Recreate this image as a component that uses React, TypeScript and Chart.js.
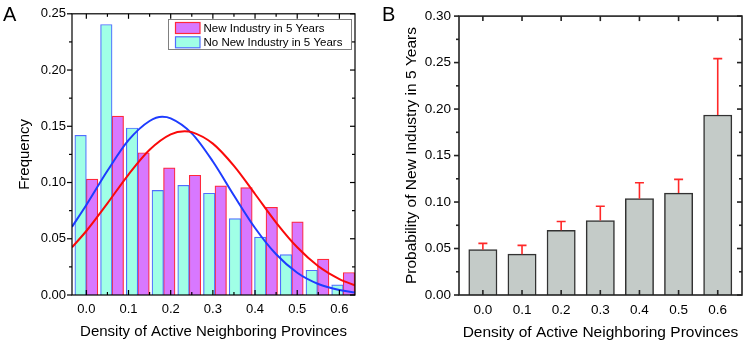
import React, { useEffect, useRef } from "react";
import { Chart, registerables } from "chart.js";

Chart.register(...registerables);

const FONT = '"Liberation Sans", Arial, Helvetica, sans-serif';

// ---------- Panel A data ----------
const binCenters = [0, 0.061, 0.122, 0.183, 0.244, 0.305, 0.366, 0.426, 0.487, 0.548, 0.609];
const freqNew = [0.103, 0.159, 0.1265, 0.113, 0.1065, 0.097, 0.0955, 0.078, 0.065, 0.032, 0.02];
const freqNoNew = [0.142, 0.2405, 0.1485, 0.093, 0.0975, 0.0905, 0.068, 0.0515, 0.036, 0.022, 0.009];
const fitNoNewX = [-0.034, 0, 0.05, 0.1, 0.15, 0.18, 0.2, 0.25, 0.3, 0.35, 0.4, 0.45, 0.5, 0.55, 0.6, 0.637];
const fitNoNewY = [0.0606, 0.08, 0.1104, 0.1376, 0.1547, 0.1584, 0.157, 0.1437, 0.1187, 0.0885, 0.0596, 0.0362, 0.0198, 0.0098, 0.0044, 0.0023];
const fitNewX = [-0.034, 0, 0.05, 0.1, 0.15, 0.2, 0.233, 0.25, 0.3, 0.35, 0.4, 0.45, 0.5, 0.55, 0.6, 0.637];
const fitNewY = [0.0424, 0.0569, 0.0815, 0.1071, 0.1291, 0.1428, 0.1455, 0.1448, 0.1346, 0.1148, 0.0898, 0.0644, 0.0424, 0.0256, 0.0142, 0.0086];
const xMajorA = [0, 0.1, 0.2, 0.3, 0.4, 0.5, 0.6];
const xMinorA = [0.05, 0.15, 0.25, 0.35, 0.45, 0.55];
const yMajorA = [0, 0.05, 0.1, 0.15, 0.2, 0.25];
const yMinorA = [0.025, 0.075, 0.125, 0.175, 0.225];
const labelNew = "New Industry in 5 Years";
const labelNoNew = "No New Industry in 5 Years";

// ---------- Panel B data ----------
const densityB = [0, 0.1, 0.2, 0.3, 0.4, 0.5, 0.6];
const probB = [0.0488, 0.0439, 0.0696, 0.0801, 0.1036, 0.1096, 0.1936];
const errB = [0.0067, 0.0095, 0.0094, 0.0154, 0.0172, 0.0148, 0.0607];
const yMajorB = [0, 0.05, 0.1, 0.15, 0.2, 0.25, 0.3];
const yMinorB = [0.025, 0.075, 0.125, 0.175, 0.225, 0.275];

const TEAL = "rgb(160,255,230)";
const TEAL_EDGE = "rgb(80,110,255)";
const MAGENTA = "rgb(216,120,255)";
const MAGENTA_EDGE = "rgb(255,40,60)";
const BLUE = "rgb(30,60,255)";
const RED = "rgb(250,10,10)";

type FrameCfg = {
  color: string;
  width: number;
  xMajor: number[];
  xMinor: number[];
  yMajor: number[];
  yMinor: number[];
};

function framePlugin(id: string, cfg: FrameCfg) {
  return {
    id,
    afterDatasetsDraw(chart: any) {
      const { ctx, chartArea, scales } = chart;
      const { left, right, top, bottom } = chartArea;
      const line = (x1: number, y1: number, x2: number, y2: number) => {
        ctx.beginPath();
        ctx.moveTo(x1, y1);
        ctx.lineTo(x2, y2);
        ctx.stroke();
      };
      ctx.save();
      ctx.strokeStyle = cfg.color;
      ctx.lineWidth = cfg.width;
      ctx.strokeRect(left, top, right - left, bottom - top);
      const maj = 5;
      const min = 3;
      cfg.xMajor.forEach((v) => {
        const p = scales.x.getPixelForValue(v);
        line(p, bottom, p, bottom - maj);
        line(p, top, p, top + maj);
      });
      cfg.xMinor.forEach((v) => {
        const p = scales.x.getPixelForValue(v);
        line(p, bottom, p, bottom - min);
        line(p, top, p, top + min);
      });
      cfg.yMajor.forEach((v) => {
        const p = scales.y.getPixelForValue(v);
        line(left, p, left - maj, p);
        line(right, p, right - maj, p);
      });
      cfg.yMinor.forEach((v) => {
        const p = scales.y.getPixelForValue(v);
        line(left, p, left - min, p);
        line(right, p, right - min, p);
      });
      ctx.restore();
    },
  };
}

const legendPluginA = {
  id: "legendA",
  afterDraw(chart: any) {
    const { ctx } = chart;
    const ds = chart.data.datasets;
    const items = [ds[1], ds[0]];
    ctx.save();
    ctx.strokeStyle = "#808080";
    ctx.lineWidth = 1;
    ctx.fillStyle = "#fff";
    ctx.fillRect(168.5, 19.5, 183, 30);
    ctx.strokeRect(168.5, 19.5, 183, 30);
    items.forEach((d: any, i: number) => {
      const cy = 28 + i * 14.3;
      ctx.fillStyle = d.backgroundColor;
      ctx.fillRect(175.5, cy - 5.5, 24.5, 11);
      ctx.strokeStyle = d.borderColor;
      ctx.lineWidth = 1.2;
      ctx.strokeRect(175.5, cy - 5.5, 24.5, 11);
      ctx.fillStyle = "#000";
      ctx.font = `11.5px ${FONT}`;
      ctx.textBaseline = "middle";
      ctx.textAlign = "left";
      ctx.fillText(d.label, 203.5, cy + 0.5);
    });
    ctx.restore();
  },
};

const errorPluginB = {
  id: "errB",
  afterDatasetsDraw(chart: any) {
    const { ctx, scales } = chart;
    ctx.save();
    ctx.strokeStyle = "rgb(255,40,40)";
    ctx.lineWidth = 1.6;
    densityB.forEach((x, i) => {
      const px = scales.x.getPixelForValue(x);
      const y0 = scales.y.getPixelForValue(probB[i]);
      const y1 = scales.y.getPixelForValue(probB[i] + errB[i]);
      ctx.beginPath();
      ctx.moveTo(px, y0);
      ctx.lineTo(px, y1);
      ctx.moveTo(px - 4.5, y1);
      ctx.lineTo(px + 4.5, y1);
      ctx.stroke();
    });
    ctx.restore();
  },
};

export default function App() {
  const refA = useRef<HTMLCanvasElement>(null);
  const refB = useRef<HTMLCanvasElement>(null);

  useEffect(() => {
    Chart.defaults.font.family = FONT;
    Chart.defaults.color = "#000";

    const chartA = new Chart(refA.current as HTMLCanvasElement, {
      type: "bar",
      data: {
        datasets: [
          {
            type: "bar",
            label: labelNoNew,
            data: binCenters.map((x, i) => ({ x, y: freqNoNew[i] })),
            backgroundColor: TEAL,
            borderColor: TEAL_EDGE,
            borderWidth: 1.2,
            barThickness: 11.5,
            order: 3,
          },
          {
            type: "bar",
            label: labelNew,
            data: binCenters.map((x, i) => ({ x, y: freqNew[i] })),
            backgroundColor: MAGENTA,
            borderColor: MAGENTA_EDGE,
            borderWidth: 1.2,
            barThickness: 11.5,
            order: 3,
          },
          {
            type: "line",
            label: "fit no new",
            data: fitNoNewX.map((x, i) => ({ x, y: fitNoNewY[i] })),
            borderColor: BLUE,
            borderWidth: 2,
            pointRadius: 0,
            cubicInterpolationMode: "monotone",
            fill: false,
            order: 1,
          },
          {
            type: "line",
            label: "fit new",
            data: fitNewX.map((x, i) => ({ x, y: fitNewY[i] })),
            borderColor: RED,
            borderWidth: 2,
            pointRadius: 0,
            cubicInterpolationMode: "monotone",
            fill: false,
            order: 0,
          },
        ] as any,
      },
      options: {
        animation: false,
        responsive: false,
        layout: { padding: { top: 10, right: 20, left: 0, bottom: 0 } },
        plugins: { legend: { display: false }, tooltip: { enabled: false } },
        scales: {
          x: {
            type: "linear",
            min: -0.034,
            max: 0.637,
            offset: false,
            grid: { display: false, drawTicks: false },
            border: { display: false },
            ticks: {
              stepSize: 0.1,
              includeBounds: false,
              autoSkip: false,
              maxRotation: 0,
              minRotation: 0,
              padding: 7,
              font: { size: 13 },
              color: "#000",
              callback: (v: any) => Number(v).toFixed(1),
            },
            title: {
              display: true,
              text: "Density of Active Neighboring Provinces",
              font: { size: 15 },
              color: "#000",
              padding: { top: 0, bottom: 3 },
            },
            afterFit: (s: any) => {
              s.height = 49;
            },
          },
          y: {
            min: 0,
            max: 0.25,
            grid: { display: false, drawTicks: false },
            border: { display: false },
            ticks: {
              stepSize: 0.05,
              padding: 6,
              font: { size: 13 },
              color: "#000",
              callback: (v: any) => Number(v).toFixed(2),
            },
            title: {
              display: true,
              text: "Frequency",
              font: { size: 15 },
              color: "#000",
              padding: { top: 16, bottom: 0 },
            },
            afterFit: (s: any) => {
              s.width = 72;
            },
          },
        },
      } as any,
      plugins: [
        framePlugin("frameA", {
          color: "#000",
          width: 1.2,
          xMajor: xMajorA,
          xMinor: xMinorA,
          yMajor: yMajorA,
          yMinor: yMinorA,
        }),
        legendPluginA,
      ],
    });

    const chartB = new Chart(refB.current as HTMLCanvasElement, {
      type: "bar",
      data: {
        datasets: [
          {
            label: "Probability",
            data: densityB.map((x, i) => ({ x, y: probB[i] })),
            backgroundColor: "rgb(196,203,200)",
            borderColor: "rgb(50,50,50)",
            borderWidth: 1.5,
            barThickness: 28.3,
          },
        ] as any,
      },
      options: {
        animation: false,
        responsive: false,
        layout: { padding: { top: 10, right: 5, left: 0, bottom: 0 } },
        plugins: { legend: { display: false }, tooltip: { enabled: false } },
        scales: {
          x: {
            type: "linear",
            min: -0.061,
            max: 0.662,
            offset: false,
            grid: { display: false, drawTicks: false },
            border: { display: false },
            ticks: {
              stepSize: 0.1,
              includeBounds: false,
              autoSkip: false,
              maxRotation: 0,
              minRotation: 0,
              padding: 7,
              font: { size: 13.5 },
              color: "#000",
              callback: (v: any) => Number(v).toFixed(1),
            },
            title: {
              display: true,
              text: "Density of Active Neighboring Provinces",
              font: { size: 15.5 },
              color: "#000",
              padding: { top: 0, bottom: 2 },
            },
            afterFit: (s: any) => {
              s.height = 49;
            },
          },
          y: {
            min: 0,
            max: 0.3,
            grid: { display: false, drawTicks: false },
            border: { display: false },
            ticks: {
              stepSize: 0.05,
              padding: 8,
              font: { size: 13.5 },
              color: "#000",
              callback: (v: any) => Number(v).toFixed(2),
            },
            title: {
              display: true,
              text: "Probability of New Industry in 5 Years",
              font: { size: 15.5 },
              color: "#000",
              padding: { top: 27, bottom: 0 },
            },
            afterFit: (s: any) => {
              s.width = 84;
            },
          },
        },
      } as any,
      plugins: [
        errorPluginB,
        framePlugin("frameB", {
          color: "#222",
          width: 1.6,
          xMajor: densityB,
          xMinor: [],
          yMajor: yMajorB,
          yMinor: yMinorB,
        }),
      ],
    });

    return () => {
      chartA.destroy();
      chartB.destroy();
    };
  }, []);

  const panelLabel: React.CSSProperties = {
    position: "absolute",
    fontFamily: FONT,
    fontSize: 20,
    lineHeight: "20px",
    color: "#000",
  };

  return (
    <div
      style={{
        position: "absolute",
        left: 0,
        top: 0,
        width: 747,
        height: 344,
        background: "#fff",
        overflow: "hidden",
      }}
    >
      <canvas
        ref={refA}
        width={375}
        height={344}
        style={{ position: "absolute", left: 0, top: 0 }}
      />
      <canvas
        ref={refB}
        width={372}
        height={344}
        style={{ position: "absolute", left: 375, top: 0 }}
      />
      <div style={{ ...panelLabel, left: 3, top: 4 }}>A</div>
      <div style={{ ...panelLabel, left: 382, top: 4 }}>B</div>
    </div>
  );
}
